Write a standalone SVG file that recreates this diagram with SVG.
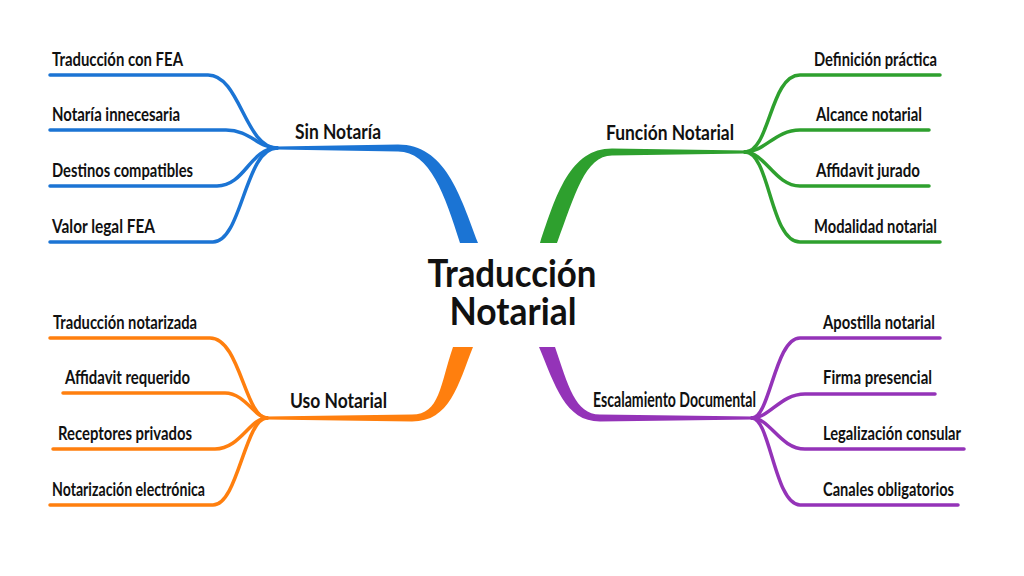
<svg xmlns="http://www.w3.org/2000/svg" width="1024" height="576" viewBox="0 0 1024 576">
<style>
text{font-family:Lato,"Open Sans","Liberation Sans",sans-serif;fill:#111;font-weight:bold}
.leaf{font-size:18px}
.br{font-size:21px}
.ctr{font-size:38px;text-anchor:middle}
.ln{fill:none;stroke-width:3.5;stroke-linecap:round}
.b{stroke:#1b74d4}.bf{fill:#1b74d4}
.g{stroke:#2ea02e}.gf{fill:#2ea02e}
.o{stroke:#ff7f0e}.of{fill:#ff7f0e}
.p{stroke:#9433b8}.pf{fill:#9433b8}
</style>
<rect width="1024" height="576" fill="#fff"/>
<g id="connectors">
<path class="bf" d="M478 243 C460 195 445 144.5 398 144.5 L277 146.5 L277 149.5 L398 151.5 C430 151.5 445 195 460 243 Z"/>
<path class="ln b" d="M50 75 L208 75 C240 75 245 148 277 148"/>
<path class="ln b" d="M50 130 L226 130 C250 130 258 148 277 148"/>
<path class="ln b" d="M50 186 L217 186 C245 186 250 148 277 148"/>
<path class="ln b" d="M50 242 L213 242 C242 242 245 148 277 148"/>
<path class="gf" d="M540 243 C556 195 570 148.5 612 148.5 L745 150.5 L745 153.5 L612 155.5 C585 155.5 575 195 557 243 Z"/>
<path class="ln g" d="M940 75 L800 75 C770 75 770 152 745 152"/>
<path class="ln g" d="M929 130 L800 130 C775 130 765 152 745 152"/>
<path class="ln g" d="M929 186 L800 186 C775 186 765 152 745 152"/>
<path class="ln g" d="M940 242 L800 242 C770 242 770 152 745 152"/>
<path class="of" d="M453 347 L473 347 C458 385 450 421.5 412 421.5 L267 419.5 L267 416.5 L412 414.5 C440 414.5 440 385 453 347 Z"/>
<path class="ln o" d="M50 338 L210 338 C240 338 245 418 267 418"/>
<path class="ln o" d="M63 393 L225 393 C245 393 255 418 267 418"/>
<path class="ln o" d="M53 449 L215 449 C240 449 250 418 267 418"/>
<path class="ln o" d="M50 505 L213 505 C238 505 245 418 267 418"/>
<path class="pf" d="M539 347 L555 347 C568 385 575 414.5 600 414.5 L752 416.5 L752 419.5 L600 421.5 C565 421.5 555 385 539 347 Z"/>
<path class="ln p" d="M940 338 L800 338 C775 338 770 418 752 418"/>
<path class="ln p" d="M935 394 L805 394 C780 394 770 418 752 418"/>
<path class="ln p" d="M964 449 L805 449 C780 449 770 418 752 418"/>
<path class="ln p" d="M958 505 L800 505 C775 505 770 418 752 418"/>
</g>
<g id="center"><text class="ctr"><tspan x="512" y="287" textLength="169" lengthAdjust="spacingAndGlyphs">Traducción</tspan><tspan x="513" y="325" textLength="127" lengthAdjust="spacingAndGlyphs">Notarial</tspan></text></g>
<g id="sin-notaria"><text class="br" x="295" y="139" textLength="86" lengthAdjust="spacingAndGlyphs">Sin Notaría</text></g>
<g id="funcion-notarial"><text class="br" x="606" y="140" textLength="128" lengthAdjust="spacingAndGlyphs">Función Notarial</text></g>
<g id="uso-notarial"><text class="br" x="290" y="408" textLength="97" lengthAdjust="spacingAndGlyphs">Uso Notarial</text></g>
<g id="escalamiento"><text class="br" x="593" y="407" textLength="163" lengthAdjust="spacingAndGlyphs">Escalamiento Documental</text></g>
<g id="b1"><text class="leaf" x="52" y="66" textLength="131" lengthAdjust="spacingAndGlyphs">Traducción con FEA</text></g>
<g id="b2"><text class="leaf" x="52" y="121" textLength="128" lengthAdjust="spacingAndGlyphs">Notaría innecesaria</text></g>
<g id="b3"><text class="leaf" x="52" y="177" textLength="141" lengthAdjust="spacingAndGlyphs">Destinos compatibles</text></g>
<g id="b4"><text class="leaf" x="52" y="233" textLength="103" lengthAdjust="spacingAndGlyphs">Valor legal FEA</text></g>
<g id="g1"><text class="leaf" x="814" y="66" textLength="123" lengthAdjust="spacingAndGlyphs">Definición práctica</text></g>
<g id="g2"><text class="leaf" x="816" y="121" textLength="106" lengthAdjust="spacingAndGlyphs">Alcance notarial</text></g>
<g id="g3"><text class="leaf" x="816" y="177" textLength="104" lengthAdjust="spacingAndGlyphs">Affidavit jurado</text></g>
<g id="g4"><text class="leaf" x="814" y="233" textLength="123" lengthAdjust="spacingAndGlyphs">Modalidad notarial</text></g>
<g id="o1"><text class="leaf" x="53" y="329" textLength="144" lengthAdjust="spacingAndGlyphs">Traducción notarizada</text></g>
<g id="o2"><text class="leaf" x="65" y="384" textLength="125" lengthAdjust="spacingAndGlyphs">Affidavit requerido</text></g>
<g id="o3"><text class="leaf" x="58" y="440" textLength="134" lengthAdjust="spacingAndGlyphs">Receptores privados</text></g>
<g id="o4"><text class="leaf" x="52" y="496" textLength="153" lengthAdjust="spacingAndGlyphs">Notarización electrónica</text></g>
<g id="p1"><text class="leaf" x="823" y="329" textLength="112" lengthAdjust="spacingAndGlyphs">Apostilla notarial</text></g>
<g id="p2"><text class="leaf" x="823" y="384" textLength="109" lengthAdjust="spacingAndGlyphs">Firma presencial</text></g>
<g id="p3"><text class="leaf" x="823" y="440" textLength="138" lengthAdjust="spacingAndGlyphs">Legalización consular</text></g>
<g id="p4"><text class="leaf" x="823" y="496" textLength="131" lengthAdjust="spacingAndGlyphs">Canales obligatorios</text></g>
</svg>
